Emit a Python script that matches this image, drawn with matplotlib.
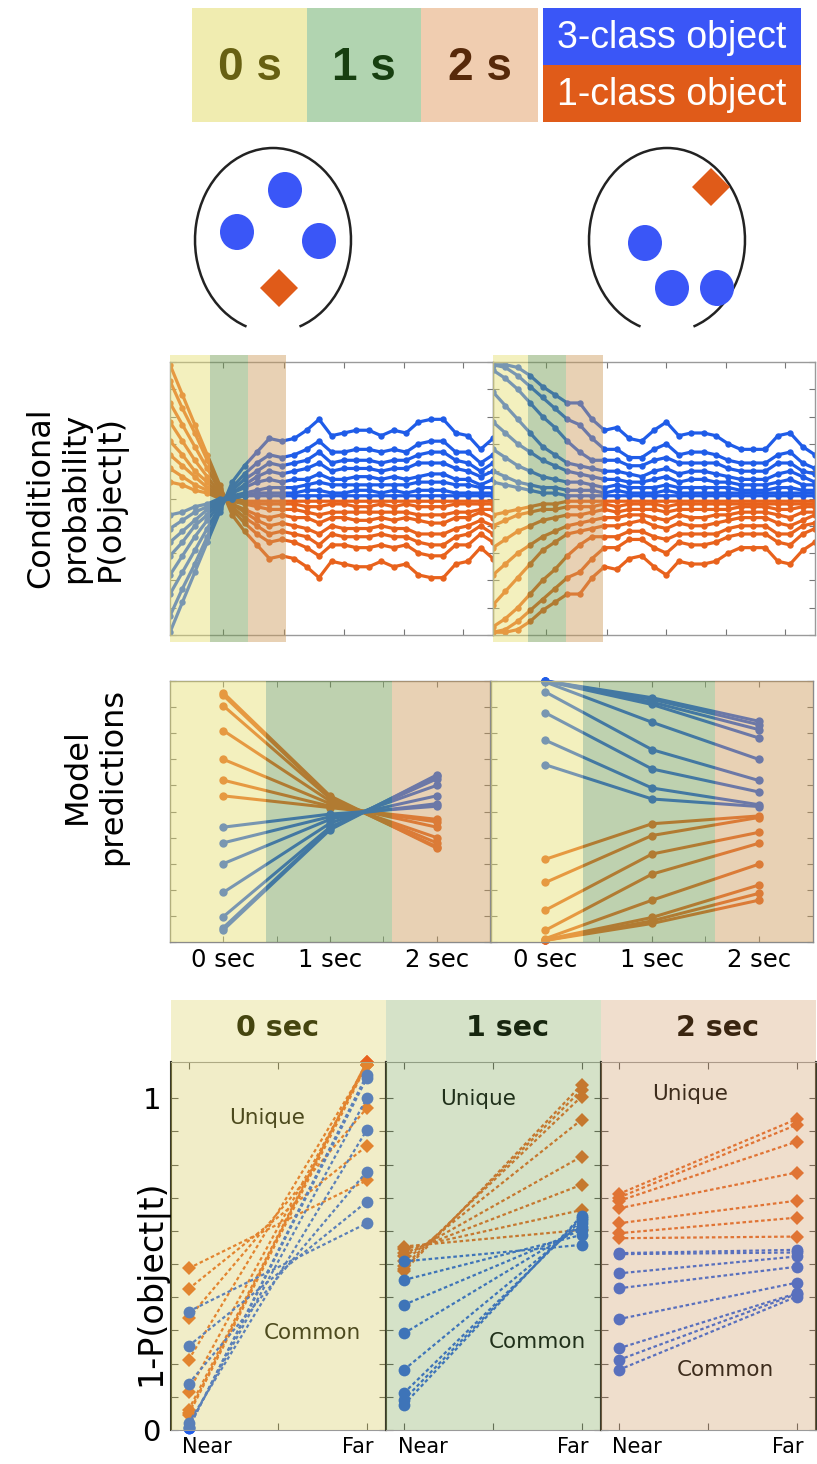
import numpy as np
import matplotlib
matplotlib.use("Agg")
import matplotlib.pyplot as plt
from matplotlib.patches import Rectangle, Ellipse, Polygon, Arc
import matplotlib.transforms as mtransforms

# ---------------------------------------------------------------- data
period_labels = ["0 s", "1 s", "2 s"]
class_labels = ["3-class object", "1-class object"]

# conditional probability (percent) per time sample, 27 samples
cond_time = list(range(27))
condA_blue = [
    [1, 12, 23, 34, 45, 56, 62, 67, 72, 71, 72, 75, 79, 73, 74, 75, 75, 73, 75, 74, 78, 79, 79, 74, 73, 68, 72],
    [7, 17, 26, 36, 46, 54, 59, 63, 66, 65, 66, 68, 71, 67, 67, 68, 68, 67, 68, 67, 70, 71, 71, 67, 67, 63, 66],
    [15, 23, 31, 39, 47, 53, 57, 60, 63, 62, 63, 64, 67, 63, 64, 64, 64, 63, 64, 64, 66, 67, 67, 64, 63, 60, 63],
    [22, 29, 36, 42, 48, 52, 55, 58, 60, 59, 60, 61, 63, 60, 61, 61, 61, 60, 61, 61, 63, 63, 63, 61, 60, 58, 60],
    [29, 34, 40, 44, 49, 52, 54, 56, 57, 56, 57, 57, 59, 57, 57, 58, 58, 57, 58, 57, 58, 59, 59, 57, 57, 55, 57],
    [34, 38, 42, 46, 49, 51, 52, 53, 54, 54, 54, 55, 56, 55, 55, 55, 55, 55, 55, 55, 56, 56, 56, 55, 55, 54, 54],
    [39, 42, 45, 47, 49, 50, 51, 52, 52, 52, 52, 53, 53, 52, 52, 53, 53, 52, 53, 52, 53, 53, 53, 52, 52, 52, 52],
    [44, 45, 47, 48, 50, 50, 51, 51, 51, 51, 51, 51, 51, 51, 51, 51, 51, 51, 51, 51, 51, 51, 51, 51, 51, 51, 51],
]
condA_orange = [
    [99, 88, 77, 66, 55, 44, 38, 33, 28, 29, 28, 25, 21, 27, 26, 25, 25, 27, 25, 26, 22, 21, 21, 26, 27, 32, 28],
    [93, 83, 74, 64, 54, 46, 41, 37, 34, 35, 34, 32, 29, 33, 33, 32, 32, 33, 32, 33, 30, 29, 29, 33, 33, 37, 34],
    [85, 77, 69, 61, 53, 47, 43, 40, 37, 38, 37, 36, 33, 37, 36, 36, 36, 37, 36, 36, 34, 33, 33, 36, 37, 40, 37],
    [78, 71, 64, 58, 52, 48, 45, 42, 40, 41, 40, 39, 37, 40, 39, 39, 39, 40, 39, 39, 37, 37, 37, 39, 40, 42, 40],
    [71, 66, 60, 56, 51, 48, 46, 44, 43, 44, 43, 43, 41, 43, 43, 42, 42, 43, 42, 43, 42, 41, 41, 43, 43, 45, 43],
    [66, 62, 58, 54, 51, 49, 48, 47, 46, 46, 46, 45, 44, 45, 45, 45, 45, 45, 45, 45, 44, 44, 44, 45, 45, 46, 46],
    [61, 58, 55, 53, 51, 50, 49, 48, 48, 48, 48, 47, 47, 48, 48, 47, 47, 48, 47, 48, 47, 47, 47, 48, 48, 48, 48],
    [56, 55, 53, 52, 50, 50, 49, 49, 49, 49, 49, 49, 49, 49, 49, 49, 49, 49, 49, 49, 49, 49, 49, 49, 49, 49, 49],
]
condB_blue = [
    [99, 99, 98, 95, 91, 88, 85, 85, 79, 75, 76, 72, 71, 75, 78, 73, 74, 74, 73, 70, 68, 68, 68, 73, 74, 69, 66],
    [99, 98, 95, 91, 87, 83, 79, 77, 72, 68, 68, 65, 65, 68, 70, 66, 67, 67, 66, 64, 63, 63, 63, 66, 67, 63, 61],
    [97, 94, 90, 85, 80, 76, 71, 67, 64, 64, 64, 62, 62, 64, 65, 63, 63, 63, 63, 61, 60, 60, 60, 63, 63, 60, 59],
    [89, 84, 79, 74, 69, 66, 63, 62, 61, 60, 60, 59, 58, 60, 61, 59, 60, 60, 59, 58, 57, 57, 57, 59, 60, 58, 56],
    [78, 74, 70, 67, 64, 62, 60, 59, 58, 57, 57, 56, 56, 57, 58, 56, 57, 57, 56, 56, 55, 55, 55, 56, 57, 55, 55],
    [68, 65, 62, 60, 58, 57, 56, 56, 55, 54, 55, 54, 54, 54, 55, 54, 54, 54, 54, 54, 53, 53, 53, 54, 54, 53, 53],
    [60, 58, 56, 55, 54, 54, 53, 53, 53, 52, 53, 52, 52, 52, 53, 52, 52, 52, 52, 52, 52, 52, 52, 52, 52, 52, 52],
    [56, 55, 54, 53, 52, 52, 51, 51, 51, 51, 51, 51, 51, 51, 51, 51, 51, 51, 51, 51, 51, 51, 51, 51, 51, 51, 51],
]
condB_orange = [
    [1, 1, 2, 5, 9, 12, 15, 15, 21, 25, 24, 28, 29, 25, 22, 27, 26, 26, 27, 30, 32, 32, 32, 27, 26, 31, 34],
    [1, 2, 5, 9, 13, 17, 21, 23, 28, 32, 32, 35, 35, 32, 30, 34, 33, 33, 34, 36, 37, 37, 37, 34, 33, 37, 39],
    [3, 6, 10, 15, 20, 24, 29, 33, 36, 36, 36, 38, 38, 36, 35, 37, 37, 37, 37, 39, 40, 40, 40, 37, 37, 40, 41],
    [11, 16, 21, 26, 31, 34, 37, 38, 39, 40, 40, 41, 42, 40, 39, 41, 40, 40, 41, 42, 43, 43, 43, 41, 40, 42, 44],
    [22, 26, 30, 33, 36, 38, 40, 41, 42, 43, 43, 44, 44, 43, 42, 44, 43, 43, 44, 44, 45, 45, 45, 44, 43, 45, 45],
    [32, 35, 38, 40, 42, 43, 44, 44, 45, 46, 45, 46, 46, 46, 45, 46, 46, 46, 46, 46, 47, 47, 47, 46, 46, 47, 47],
    [40, 42, 44, 45, 46, 46, 47, 47, 47, 48, 47, 48, 48, 48, 47, 48, 48, 48, 48, 48, 48, 48, 48, 48, 48, 48, 48],
    [44, 45, 46, 47, 48, 48, 49, 49, 49, 49, 49, 49, 49, 49, 49, 49, 49, 49, 49, 49, 49, 49, 49, 49, 49, 49, 49],
]
condA_bands = [0, 3.2, 6.3, 9.3]
condB_bands = [0, 2.8, 5.9, 8.9]
cond_xticks = [4.3, 9.2, 14.0, 18.8, 23.6]

# model predictions at 0, 1, 2 sec
model_x = [0, 1, 2]
model_ticklabels = ["0 sec", "1 sec", "2 sec"]
modelA_orange = [[0.955, 0.56, 0.36], [0.945, 0.555, 0.365], [0.905, 0.55, 0.38], [0.81, 0.54, 0.40],
                 [0.70, 0.53, 0.44], [0.62, 0.52, 0.46], [0.56, 0.515, 0.47]]
modelA_blue = [[0.046, 0.43, 0.64], [0.055, 0.435, 0.635], [0.097, 0.44, 0.625], [0.19, 0.455, 0.60],
               [0.30, 0.47, 0.56], [0.38, 0.48, 0.53], [0.44, 0.49, 0.52]]
modelB_blue = [[1.0, 0.936, 0.846], [1.0, 0.93, 0.833], [1.0, 0.919, 0.814], [1.0, 0.91, 0.782],
               [0.996, 0.842, 0.70], [0.958, 0.737, 0.619], [0.878, 0.663, 0.575],
               [0.773, 0.59, 0.526], [0.679, 0.548, 0.519]]
modelB_orange = [[0.317, 0.453, 0.483], [0.228, 0.408, 0.477], [0.122, 0.337, 0.42], [0.045, 0.26, 0.378],
                 [0.013, 0.16, 0.298], [0.009, 0.094, 0.218], [0.006, 0.081, 0.186], [0.006, 0.071, 0.16]]
modelA_bands = [-0.5, 0.4, 1.58, 2.5]
modelB_bands = [-0.51, 0.35, 1.59, 2.51]

# 1-P(object|t), Near vs Far
bottom_titles = ["0 sec", "1 sec", "2 sec"]
near_far_x = [0, 1]
near_far_labels = ["Near", "Far"]
bot_orange_near = [[0.487, 0.425, 0.337, 0.211, 0.116, 0.06, 0.05, 0.045],
                   [0.553, 0.545, 0.533, 0.523, 0.508, 0.493, 0.485, 0.478],
                   [0.711, 0.70, 0.69, 0.668, 0.623, 0.593, 0.578]]
bot_orange_far = [[0.752, 0.856, 0.97, 1.10, 1.10, 1.11, 1.11, 1.10],
                  [0.603, 0.663, 0.739, 0.824, 0.935, 1.005, 1.025, 1.04],
                  [0.937, 0.92, 0.869, 0.776, 0.691, 0.64, 0.583]]
bot_blue_near = [[0.357, 0.253, 0.139, 0.02, 0.01, 0.005, 0.005],
                 [0.508, 0.452, 0.377, 0.291, 0.181, 0.111, 0.091, 0.076],
                 [0.533, 0.53, 0.472, 0.427, 0.334, 0.246, 0.211, 0.181]]
bot_blue_far = [[0.623, 0.688, 0.779, 0.904, 1.0, 1.06, 1.07],
                [0.558, 0.588, 0.603, 0.613, 0.623, 0.633, 0.64, 0.645],
                [0.543, 0.535, 0.523, 0.492, 0.444, 0.412, 0.41, 0.402]]

# ---------------------------------------------------------------- style / layout
W, H = 817, 1464
BLUE = "#1f5ce8"
ORANGE = "#e8621c"
OVERLAY = ["#e5de6f", "#6f9b4e", "#cc9b59"]
BOTTOM_OVERLAY = ["#d7cb58", "#80a758", "#d19b67"]
HEADER_FILL = ["#f3f0cb", "#d5e2c8", "#f0decd"]
HEADER_TEXT = ["#45450f", "#17260f", "#3a2510"]
NOTE_TEXT = ["#4d4a1e", "#20301a", "#3d2c1c"]
LEG_FILL = ["#f0ecb0", "#b1d4b0", "#f0cdb0"]
LEG_TEXT = ["#676012", "#173f10", "#57290a"]
LEG_CLASS = ["#3a56f7", "#e05b19"]

plt.rcParams["font.family"] = ["DejaVu Sans"]
fig = plt.figure(figsize=(W / 100, H / 100), dpi=100)


def axes_px(x0, y0, x1, y1, **kw):
    return fig.add_axes([x0 / W, 1 - y1 / H, (x1 - x0) / W, (y1 - y0) / H], **kw)


def ftext(x, y, s, **kw):
    return fig.text(x / W, 1 - y / H, s, **kw)


# background axes in pixel coordinates for the legend and schematic
bg = fig.add_axes([0, 0, 1, 1], zorder=0)
bg.set_xlim(0, W)
bg.set_ylim(H, 0)
bg.axis("off")

leg_edges = [192, 307, 421, 538]
for i in range(3):
    bg.add_patch(Rectangle((leg_edges[i], 8), leg_edges[i + 1] - leg_edges[i], 114,
                           color=LEG_FILL[i], lw=0))
    bg.text((leg_edges[i] + leg_edges[i + 1]) / 2, 68, period_labels[i], ha="center", va="center",
            fontsize=33, fontweight="bold", color=LEG_TEXT[i], family="Liberation Sans")
for i in range(2):
    bg.add_patch(Rectangle((543, 8 + 57 * i), 258, 57, color=LEG_CLASS[i], lw=0))
    bg.text(672, 38 + 57 * i, class_labels[i], ha="center", va="center", fontsize=27,
            color="white", family="Liberation Sans")

# schematic stimuli
ring_centers = [(273, 240), (667, 240)]
dot_sets = [[(285, 190), (237, 232), (319, 241)], [(645, 243), (672, 288), (717, 288)]]
diamond_centers = [(279, 288), (711, 187)]
for (cx, cy), dots, (dx, dy) in zip(ring_centers, dot_sets, diamond_centers):
    bg.add_patch(Arc((cx, cy), 156, 184, theta1=107, theta2=433, color="#222222", lw=1.8))
    for (px, py) in dots:
        bg.add_patch(Ellipse((px, py), 34, 36, color=LEG_CLASS[0], lw=0))
    r = 19
    bg.add_patch(Polygon([(dx, dy - r), (dx + r, dy), (dx, dy + r), (dx - r, dy)], closed=True,
                         color=LEG_CLASS[1], lw=0))

# ---------------------------------------------------------------- conditional probability panels
def draw_cond(box, blue, orange, bands):
    ax = axes_px(*box)
    ax.set_facecolor("none")
    for row in orange:
        ax.plot(cond_time, np.array(row) / 100, color=ORANGE, lw=2.3, marker="o", ms=4.6, mew=0, zorder=2)
    for row in blue:
        ax.plot(cond_time, np.array(row) / 100, color=BLUE, lw=2.3, marker="o", ms=4.6, mew=0, zorder=2)
    for k in range(3):
        ax.axvspan(bands[k], bands[k + 1], ymin=-0.025, ymax=1.025, color=OVERLAY[k], alpha=0.45,
                   lw=0, zorder=3, clip_on=False)
    ax.set_xlim(0, 26)
    ax.set_ylim(0, 1)
    ax.set_xticks(cond_xticks)
    ax.set_yticks(np.arange(0, 1.01, 0.1))
    ax.tick_params(direction="in", top=True, right=True, length=4, color="#777777",
                   labelbottom=False, labelleft=False)
    for s in ax.spines.values():
        s.set_color("#9a9a9a")
        s.set_linewidth(1)
    return ax


draw_cond((170, 362, 493, 635), condA_blue, condA_orange, condA_bands)
draw_cond((493, 362, 815, 635), condB_blue, condB_orange, condB_bands)

# ---------------------------------------------------------------- model prediction panels
def draw_model(box, blue, orange, bands):
    ax = axes_px(*box)
    ax.set_facecolor("none")
    for row in orange:
        ax.plot(model_x, row, color=ORANGE, lw=2.2, marker="o", ms=6, mew=0, zorder=2, clip_on=False)
    for row in blue:
        ax.plot(model_x, row, color=BLUE, lw=2.2, marker="o", ms=6, mew=0, zorder=2, clip_on=False)
    for k in range(3):
        ax.axvspan(bands[k], bands[k + 1], color=OVERLAY[k], alpha=0.45, lw=0, zorder=3)
    ax.set_xlim(bands[0], bands[-1])
    ax.set_ylim(0, 1.0)
    ax.set_xticks(model_x)
    ax.set_xticklabels(model_ticklabels, fontsize=17.5)
    ax.set_xticks([0.5, 1.5], minor=True)
    ax.set_yticks(np.arange(0, 1.01, 0.1))
    ax.tick_params(which="both", direction="in", top=True, right=True, length=4, color="#777777",
                   labelleft=False, pad=4)
    for s in ax.spines.values():
        s.set_color("#8a8a8a")
        s.set_linewidth(1)
    return ax


draw_model((170, 681, 490, 942), modelA_blue, modelA_orange, modelA_bands)
draw_model((491, 681, 813, 942), modelB_blue, modelB_orange, modelB_bands)

# ---------------------------------------------------------------- Near / Far panels
bottom_boxes = [(170.7, 386), (386, 600.7), (600.7, 816)]
title_x = [278, 507, 717]
unique_pos = [(267, 1118), (478, 1099), (690, 1094)]
common_pos = [(312, 1333), (537, 1342), (725, 1370)]
for i in range(3):
    x0, x1 = bottom_boxes[i]
    hax = axes_px(x0, 1000, x1, 1061.7)
    hax.set_facecolor(HEADER_FILL[i])
    hax.set_xticks([])
    hax.set_yticks([])
    for s in hax.spines.values():
        s.set_visible(False)
    ftext(title_x[i], 1028, bottom_titles[i], ha="center", va="center", fontsize=20.5,
          fontweight="bold", color=HEADER_TEXT[i])

    ax = axes_px(x0, 1061.7, x1, 1430)
    ax.set_facecolor("white")
    for near, far in zip(bot_orange_near[i], bot_orange_far[i]):
        ax.plot(near_far_x, [near, far], color=ORANGE, lw=1.6, ls=(0, (1.6, 1.2)), marker="D",
                ms=7.5, mew=0, zorder=2, clip_on=False)
    for near, far in zip(bot_blue_near[i], bot_blue_far[i]):
        ax.plot(near_far_x, [near, far], color=BLUE, lw=1.6, ls=(0, (1.6, 1.2)), marker="o",
                ms=8.5, mew=0, zorder=2, clip_on=False)
    ax.add_patch(Rectangle((0, 0), 1, 1, transform=ax.transAxes, color=BOTTOM_OVERLAY[i],
                           alpha=0.33, lw=0, zorder=3))
    ax.set_xlim(-0.1, 1.108)
    ax.set_ylim(0, 1.11)
    ax.set_xticks([0, 0.5, 1])
    ax.set_yticks(np.arange(0, 1.01, 0.1))
    ax.tick_params(direction="in", top=True, right=True, length=5, color="#555555",
                   labelbottom=False, labelleft=(i == 0), labelsize=21, pad=7)
    if i == 0:
        ax.set_yticklabels(["0"] + [""] * 9 + ["1"])
    tr = mtransforms.blended_transform_factory(ax.transData, ax.transAxes)
    ax.text(-0.035, -0.02, near_far_labels[0], transform=tr, ha="left", va="top", fontsize=15)
    ax.text(1.04, -0.02, near_far_labels[1], transform=tr, ha="right", va="top", fontsize=15)
    for side in ("left", "right"):
        ax.spines[side].set_color("#3a3a2a")
        ax.spines[side].set_linewidth(1.5)
    for side in ("top", "bottom"):
        ax.spines[side].set_color("#9a9a9a")
        ax.spines[side].set_linewidth(0.8)
    ftext(*unique_pos[i], "Unique", ha="center", va="center", fontsize=15.5, color=NOTE_TEXT[i], zorder=10)
    ftext(*common_pos[i], "Common", ha="center", va="center", fontsize=15.5, color=NOTE_TEXT[i], zorder=10)

# ---------------------------------------------------------------- row labels
ftext(76, 498, "Conditional\nprobability\nP(object|t)", rotation=90, ha="center", va="center",
      fontsize=23, multialignment="center", linespacing=1.15)
ftext(95, 776, "Model\npredictions", rotation=90, ha="center", va="center",
      fontsize=23, multialignment="center", linespacing=1.15)
ftext(151, 1283, "1-P(object|t)", rotation=90, ha="center", va="center", fontsize=24)

fig.savefig("out.png", dpi=100)
